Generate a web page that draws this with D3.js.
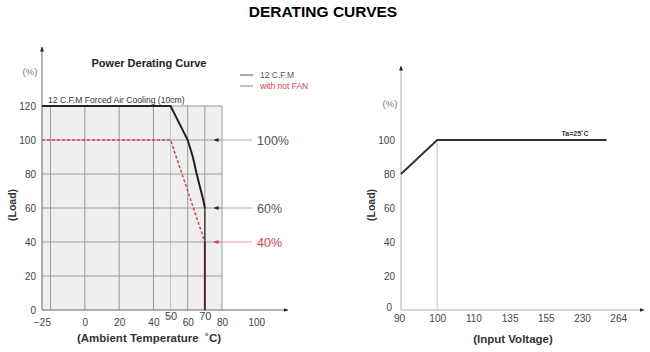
<!DOCTYPE html>
<html><head><meta charset="utf-8">
<script src="https://cdn.jsdelivr.net/npm/d3@7"></script>
<style>body{margin:0;background:#fff;}svg{display:block;font-family:"Liberation Sans",Arial,sans-serif;}</style>
</head><body><svg id="c" width="650" height="352"></svg>
<script>
// ---- data ----
const tempTicks = [-25, 0, 20, 40, 50, 60, 70, 80, 100];
const tempGrid = [-20, 0, 20, 40, 50, 60, 70, 80];
const loadTicks = [0, 20, 40, 60, 80, 100, 120];
const fanCurveTemp = [-25, 50, 60, 63, 65, 67, 69, 70, 70];
const fanCurveLoad = [120, 120, 100, 90, 81, 73, 65, 60, 0];
const noFanTemp = [-25, 50, 70];
const noFanLoad = [100, 100, 40];
const noFanDropTemp = [70, 70];
const noFanDropLoad = [40, 0];
const markerLevels = [100, 60, 40];
const markerLabels = ["100%", "60%", "40%"];
const voltTicks = [90, 100, 110, 135, 155, 230, 264];
const voltCurveV = [90, 100, 253];
const voltCurveLoad = [80, 100, 100];

const svg = d3.select("#c");
const grid = "#999", red = "#d9414b";

svg.append("text").attr("x", 323).attr("y", 17).attr("text-anchor", "middle")
  .attr("font-weight", "bold").attr("font-size", 15.5).attr("fill", "#000").text("DERATING CURVES");

// arrow markers
const defs = svg.append("defs");
function mk(id, color, size) {
  defs.append("marker").attr("id", id).attr("viewBox", "0 0 10 10").attr("refX", 9).attr("refY", 5)
    .attr("markerWidth", size).attr("markerHeight", size).attr("orient", "auto-start-reverse")
    .append("path").attr("d", "M0,1L10,5L0,9Z").attr("fill", color);
}
mk("arK", "#222", 5); mk("arR", red, 5);

// ---------- LEFT ----------
const xL = d3.scaleLinear().domain([-25, 80]).range([42, 222]);
const yL = d3.scaleLinear().domain([0, 120]).range([310, 106]);
const L = svg.append("g");

L.append("rect").attr("x", xL(-25)).attr("y", yL(120)).attr("width", xL(80) - xL(-25))
  .attr("height", yL(0) - yL(120)).attr("fill", "#efefef");
L.selectAll(".vg").data(tempGrid).join("line").attr("x1", d => xL(d)).attr("x2", d => xL(d))
  .attr("y1", yL(0)).attr("y2", yL(120)).attr("stroke", d => d === 50 ? "#c4c4c4" : grid).attr("stroke-width", 1);
L.selectAll(".hg").data(loadTicks.filter(d => d > 0)).join("line").attr("x1", xL(-25)).attr("x2", xL(80))
  .attr("y1", d => yL(d)).attr("y2", d => yL(d)).attr("stroke", grid).attr("stroke-width", 1);

// axes
L.append("line").attr("x1", xL(-25)).attr("x2", xL(-25)).attr("y1", yL(0)).attr("y2", 47)
  .attr("stroke", "#666").attr("stroke-width", 1).attr("marker-end", "url(#arK)");
L.append("line").attr("x1", xL(-25)).attr("x2", 288).attr("y1", yL(0)).attr("y2", yL(0))
  .attr("stroke", "#666").attr("stroke-width", 1).attr("marker-end", "url(#arK)");

const axL = L.append("g").attr("transform", `translate(0,${yL(0)})`)
  .call(d3.axisBottom(xL).tickValues(tempTicks).tickSize(0).tickPadding(0).tickFormat(d3.format("d")));
axL.select(".domain").remove();
axL.selectAll("text").attr("fill", "#444").attr("font-family", "Liberation Sans, Arial")
  .attr("y", d => (d === 50 || d === 70) ? 10 : 16).attr("dy", 0)
  .attr("font-size", d => (d === 50 || d === 70) ? 11 : 10);

const ayL = L.append("g").attr("transform", `translate(${xL(-25)},0)`)
  .call(d3.axisLeft(yL).tickValues(loadTicks).tickSize(0).tickPadding(6));
ayL.select(".domain").remove();
ayL.selectAll("text").attr("font-size", 10).attr("fill", "#444").attr("font-family", "Liberation Sans, Arial");

// curves
const lineL = d3.line().x(d => xL(d[0])).y(d => yL(d[1]));
L.append("path").datum(noFanTemp.map((t, i) => [t, noFanLoad[i]])).attr("d", lineL)
  .attr("fill", "none").attr("stroke", red).attr("stroke-width", 1.5).attr("stroke-dasharray", "3,2");
L.append("path").datum(noFanDropTemp.map((t, i) => [t, noFanDropLoad[i]])).attr("d", lineL)
  .attr("fill", "none").attr("stroke", "#c0303c").attr("stroke-width", 2);
L.append("path").datum(fanCurveTemp.map((t, i) => [t, fanCurveLoad[i]]).slice(0, 8)).attr("d", lineL)
  .attr("fill", "none").attr("stroke", "#222").attr("stroke-width", 2);
L.append("path").datum(fanCurveTemp.map((t, i) => [t, fanCurveLoad[i]]).slice(7)).attr("d", lineL)
  .attr("fill", "none").attr("stroke", "#222").attr("stroke-width", 1.2);

// level markers
markerLevels.forEach((lv, i) => {
  L.append("line").attr("x1", 252).attr("x2", 214).attr("y1", yL(lv)).attr("y2", yL(lv))
    .attr("stroke", lv === 40 ? "#e79aa0" : "#aaa").attr("stroke-width", 1)
    .attr("marker-end", lv === 40 ? "url(#arR)" : "url(#arK)");
  L.append("text").attr("x", 257).attr("y", yL(lv) + 4.5).attr("font-size", 12.5)
    .attr("fill", lv === 40 ? red : "#555").text(markerLabels[i]);
});

// titles & legend
L.append("text").attr("x", 149).attr("y", 67).attr("text-anchor", "middle").attr("font-weight", "bold")
  .attr("font-size", 11).attr("fill", "#222").text("Power Derating Curve");
L.append("text").attr("x", 30).attr("y", 75).attr("text-anchor", "middle").attr("font-size", 9.5)
  .attr("fill", "#777").text("(%)");
L.append("text").attr("x", 48).attr("y", 103).attr("font-size", 8.6).attr("fill", "#333")
  .text("12 C.F.M Forced Air Cooling (10cm)");
L.append("line").attr("x1", 240).attr("x2", 253).attr("y1", 75).attr("y2", 75).attr("stroke", "#555");
L.append("text").attr("x", 260).attr("y", 78).attr("font-size", 8.5).attr("fill", "#555").text("12 C.F.M");
L.append("line").attr("x1", 240).attr("x2", 253).attr("y1", 86).attr("y2", 86).attr("stroke", "#888");
L.append("text").attr("x", 260).attr("y", 89).attr("font-size", 8.5).attr("fill", red).text("with not FAN");
L.append("text").attr("transform", "translate(16,205) rotate(-90)").attr("text-anchor", "middle")
  .attr("font-weight", "bold").attr("font-size", 10.5).attr("fill", "#333").text("(Load)");
L.append("text").attr("x", 149).attr("y", 342).attr("text-anchor", "middle").attr("font-weight", "bold")
  .attr("font-size", 11.5).attr("fill", "#333").text("(Ambient Temperature \u00A0\u02DAC)");

// ---------- RIGHT ----------
const xR = d3.scaleLinear().domain(voltTicks).range(voltTicks.map((d, i) => 401 + i * 36.2));
const yR = d3.scaleLinear().domain([0, 120]).range([310, 106]);
const R = svg.append("g");

R.append("line").attr("x1", xR(90)).attr("x2", xR(90)).attr("y1", yR(0)).attr("y2", 66)
  .attr("stroke", "#aaa").attr("stroke-width", 1).attr("marker-end", "url(#arK)");
R.append("line").attr("x1", xR(90)).attr("x2", 644).attr("y1", yR(0)).attr("y2", yR(0))
  .attr("stroke", "#aaa").attr("stroke-width", 1).attr("marker-end", "url(#arK)");
R.append("line").attr("x1", xR(100)).attr("x2", xR(100)).attr("y1", yR(0)).attr("y2", yR(100))
  .attr("stroke", "#c8c8c8").attr("stroke-width", 1);

const axR = R.append("g").attr("transform", `translate(0,${yR(0)})`)
  .call(d3.axisBottom(xR).tickValues(voltTicks).tickSize(0).tickPadding(5).tickFormat(d3.format("d")));
axR.select(".domain").remove();
axR.selectAll("text").attr("font-size", 10).attr("fill", "#444").attr("font-family", "Liberation Sans, Arial")
  .attr("x", d => d === 90 ? -2 : 0);

const ayR = R.append("g").attr("transform", `translate(${xR(90)},0)`)
  .call(d3.axisLeft(yR).tickValues(loadTicks.filter(d => d <= 100)).tickSize(0).tickPadding(6));
ayR.select(".domain").remove();
ayR.selectAll("text").attr("font-size", 10).attr("fill", "#444").attr("font-family", "Liberation Sans, Arial")
  .attr("x", d => d === 0 ? -9 : -6)
  .attr("dy", d => d === 0 ? "0em" : "0.32em");

R.append("path").datum(voltCurveV.map((v, i) => [v, voltCurveLoad[i]]))
  .attr("d", d3.line().x(d => xR(d[0])).y(d => yR(d[1])))
  .attr("fill", "none").attr("stroke", "#333").attr("stroke-width", 2);

R.append("text").attr("x", 575).attr("y", 136).attr("text-anchor", "middle").attr("font-weight", "bold")
  .attr("font-size", 7).attr("fill", "#333").text("Ta=25\u02DAC");
R.append("text").attr("x", 390).attr("y", 107).attr("text-anchor", "middle").attr("font-size", 9.5)
  .attr("fill", "#777").text("(%)");
R.append("text").attr("transform", "translate(375,205) rotate(-90)").attr("text-anchor", "middle")
  .attr("font-weight", "bold").attr("font-size", 10.5).attr("fill", "#333").text("(Load)");
R.append("text").attr("x", 513).attr("y", 343).attr("text-anchor", "middle").attr("font-weight", "bold")
  .attr("font-size", 11.5).attr("fill", "#333").text("(Input Voltage)");
</script></body></html>
